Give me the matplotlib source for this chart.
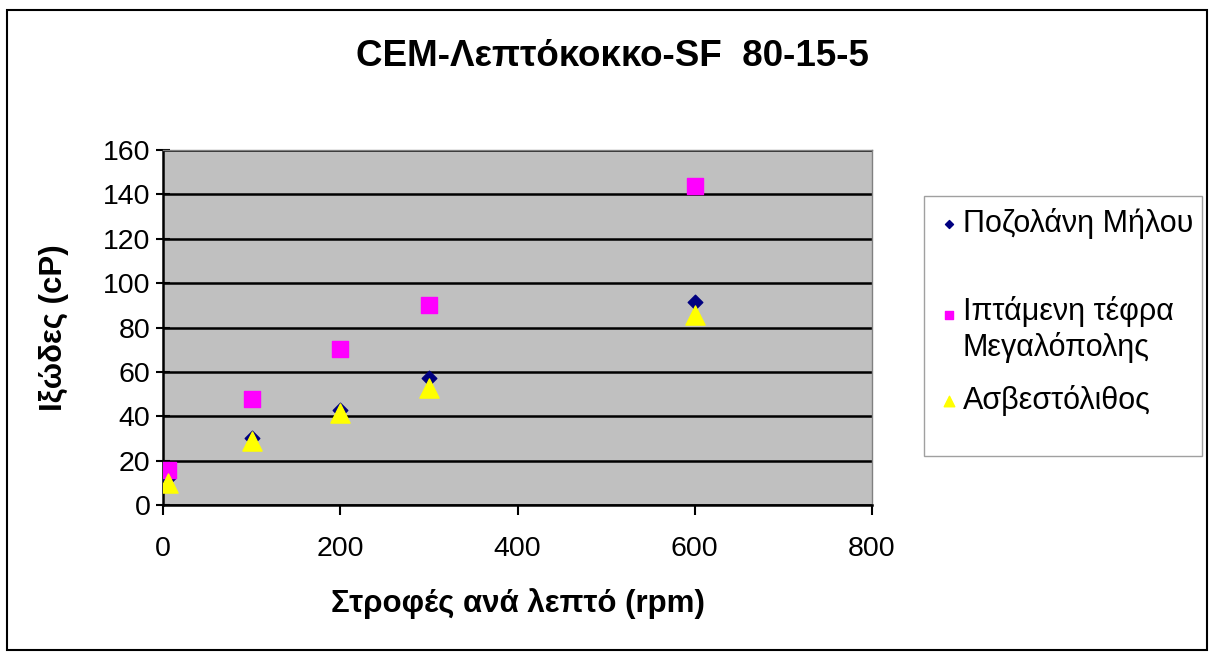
import matplotlib
matplotlib.use("Agg")
import matplotlib.pyplot as plt
import matplotlib.patches as patches

plt.rcParams['font.family'] = ['Liberation Sans', 'DejaVu Sans']

rpm = [6, 100, 200, 300, 600]
pozolani = [12, 30, 42.8, 57.2, 91.5]
iptamenh = [15.7, 47.8, 70.3, 90.1, 143.8]
asvest = [10, 28.8, 41.4, 52.7, 85.6]

labels = ["Ποζολάνη Μήλου", "\nΙπτάμενη τέφρα\nΜεγαλόπολης", "Ασβεστόλιθος"]
x_ticks = [0, 200, 400, 600, 800]
y_ticks = [0, 20, 40, 60, 80, 100, 120, 140, 160]

W, H = 1213, 654
fig = plt.figure(figsize=(W / 100, H / 100), dpi=100)
ax = fig.add_axes([163 / W, 1 - 505 / H, 709 / W, 355 / H])
ax.set_facecolor('#C0C0C0')

# frame around the whole chart
fig.patches.append(patches.Rectangle((7 / W, 4 / H), 1200 / W, 640 / H,
                                     transform=fig.transFigure, fill=False,
                                     edgecolor='black', linewidth=1.5))
# legend box
fig.patches.append(patches.Rectangle((924 / W, 1 - 456 / H), 278 / W, 260 / H,
                                     transform=fig.transFigure, fill=False,
                                     edgecolor='#A0A0A0', linewidth=1))

ax.scatter(rpm, pozolani, marker='D', s=55, color='#000080', label=labels[0], zorder=3)
ax.scatter(rpm, iptamenh, marker='s', s=120, color='#FF00FF', label=labels[1], zorder=3)
ax.scatter(rpm, asvest, marker='^', s=190, color='#FFFF00', label=labels[2], zorder=4)

ax.set_xlim(0, 800)
ax.set_ylim(0, 160)
ax.set_xticks(x_ticks)
ax.set_yticks(y_ticks)
ax.yaxis.grid(True, color='black', linewidth=1.8)
ax.set_axisbelow(True)
ax.tick_params(axis='y', direction='inout', length=10, width=1.5, labelsize=20.5, pad=4)
ax.tick_params(axis='x', direction='out', length=7, width=1.5, labelsize=20.5, pad=15)

for side in ['left', 'bottom']:
    ax.spines[side].set_linewidth(1.8)
for side in ['top', 'right']:
    ax.spines[side].set_color('#808080')
    ax.spines[side].set_linewidth(1)

ax.set_xlabel("Στροφές ανά λεπτό (rpm)", fontsize=22.5, fontweight='bold', va='top')
ax.xaxis.set_label_coords(0.5, -0.235)
ax.set_ylabel("Ιξώδες (cP)", fontsize=22.5, fontweight='bold')
ax.yaxis.set_label_coords(-0.133, 0.5)

fig.text(0.505, 0.913, "CEM-Λεπτόκοκκο-SF  80-15-5", ha='center', va='center',
         fontsize=26.5, fontweight='bold')

leg = ax.legend(loc='upper left', bbox_to_anchor=(937 / W, 1 - 208 / H),
                bbox_transform=fig.transFigure, frameon=False,
                fontsize=22, markerscale=0.55, handletextpad=0.05, handlelength=0.8,
                labelspacing=0.72, borderpad=0, borderaxespad=0)

fig.savefig("out.png", dpi=100)
